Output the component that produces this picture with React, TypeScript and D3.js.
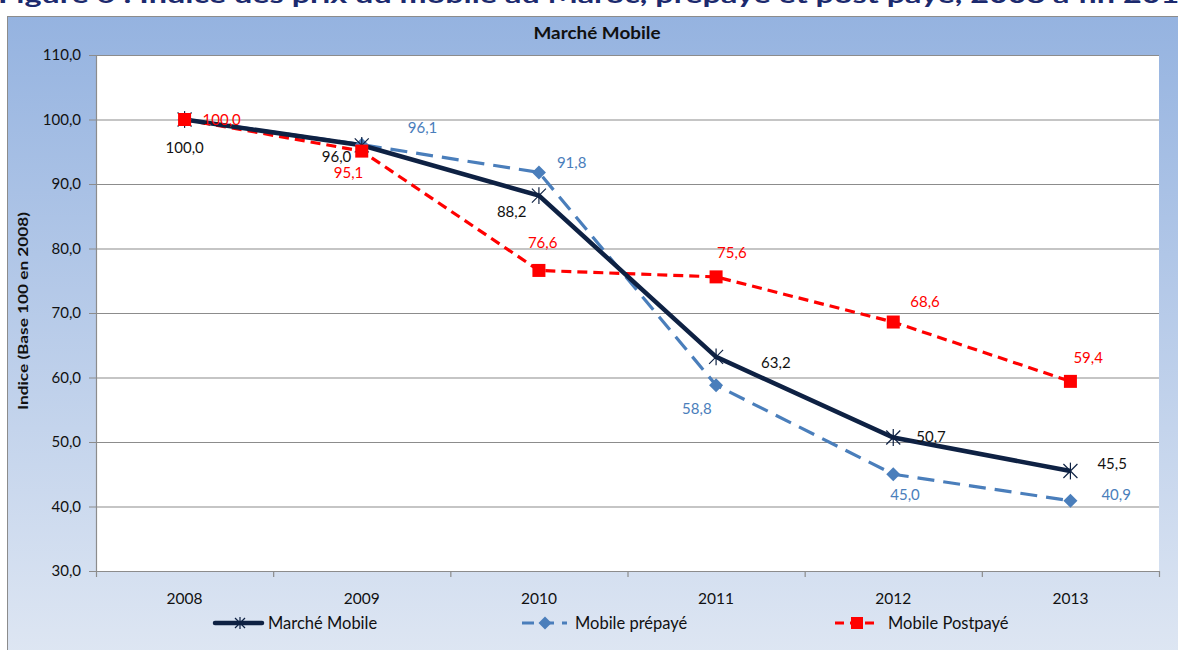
import React from "react";
import * as d3 from "d3";

const years = ["2008", "2009", "2010", "2011", "2012", "2013"];
const marcheMobile = [100.0, 96.0, 88.2, 63.2, 50.7, 45.5];
const mobilePrepaye = [100.0, 96.1, 91.8, 58.8, 45.0, 40.9];
const mobilePostpaye = [100.0, 95.1, 76.6, 75.6, 68.6, 59.4];
const yTicks = [30, 40, 50, 60, 70, 80, 90, 100, 110];
const seriesNames = ["Marché Mobile", "Mobile prépayé", "Mobile Postpayé"];
// label offsets (dx, baseline dy) per point; null = not shown
const labelPosMarche: ([number, number] | null)[] = [
  [-19, 33.5], [-40, 16.5], [-42, 21.5], [45, 11], [23, 5], [27, -2],
];
const labelPosPre: ([number, number] | null)[] = [
  null, [46, -12], [18, -4], [-34, 28.7], [-3, 26], [31, -1],
];
const labelPosPost: ([number, number] | null)[] = [
  [18, 5.5], [-28, 27], [-11, -22.4], [1, -18.8], [17, -15], [3, -18.4],
];

const W = 1178;
const H = 650;
const font = "Lato, 'Open Sans', 'Liberation Sans', sans-serif";

export default function App() {
  const left = 96, right = 1159, top = 55, bottom = 571;
  const x = d3.scaleBand<string>().domain(years).range([left, right]);
  const y = d3.scaleLinear().domain([30, 110]).range([bottom, top]);
  const cx = (yr: string) => (x(yr) as number) + x.bandwidth() / 2;
  const line = d3.line<number>().x((_, i) => cx(years[i])).y((v) => y(v));

  const cMarche = "#0e2143";
  const cPre = "#4a7ebb";
  const cPost = "#ff0000";

  const star = (px: number, py: number, s: number, color: string, key?: any) => (
    <g key={key} stroke={color} strokeWidth={1.2}>
      <line x1={px - s} y1={py - s} x2={px + s} y2={py + s} />
      <line x1={px - s} y1={py + s} x2={px + s} y2={py - s} />
      <line x1={px} y1={py - s * 1.2} x2={px} y2={py + s * 1.2} />
    </g>
  );
  const diamond = (px: number, py: number, s: number, color: string, key?: any) => (
    <path key={key} d={`M${px},${py - s}L${px + s},${py}L${px},${py + s}L${px - s},${py}Z`} fill={color} />
  );
  const square = (px: number, py: number, s: number, color: string, key?: any) => (
    <rect key={key} x={px - s} y={py - s} width={2 * s} height={2 * s} fill={color} />
  );

  const fmt = (v: number) => v.toFixed(1).replace(".", ",");

  const labels = (vals: number[], pos: ([number, number] | null)[], color: string, k: string) =>
    vals.map((v, i) => {
      const p = pos[i];
      if (!p) return null;
      return (
        <text key={k + i} x={cx(years[i]) + p[0]} y={y(v) + p[1]} fontFamily={font} fontSize={15} fill={color}>
          {fmt(v)}
        </text>
      );
    });

  return (
    <svg width={W} height={H} style={{ position: "absolute", left: 0, top: 0 }}>
      <defs>
        <linearGradient id="bg" x1="0" y1="0" x2="0" y2="1">
          <stop offset="0" stopColor="#95b3e0" />
          <stop offset="1" stopColor="#dfe7f3" />
        </linearGradient>
      </defs>
      <rect x={0} y={0} width={W} height={H} fill="#ffffff" />
      <text x={-2} y={3} fontFamily={font} fontWeight="bold" fontSize={23} fill="#1c2a6e" textLength={1200} lengthAdjust="spacingAndGlyphs">
        Figure 6 : Indice des prix du mobile au Maroc, prépayé et post payé, 2008 à fin 2013
      </text>
      <rect x={7.5} y={16.5} width={1200} height={650} fill="url(#bg)" stroke="#8c8c8c" strokeWidth={1} />
      <text x={597} y={39} textAnchor="middle" fontFamily={font} fontWeight="bold" fontSize={17} fill="#111" textLength={127} lengthAdjust="spacingAndGlyphs">
        Marché Mobile
      </text>
      <rect x={left} y={top} width={right - left} height={bottom - top} fill="#ffffff" />
      {yTicks.map((t) => (
        <g key={t}>
          <line x1={left - 7} x2={right} y1={y(t) + 0.5} y2={y(t) + 0.5} stroke="#8c8c8c" strokeWidth={1.2} />
          <text x={left - 15} y={y(t) + 5} textAnchor="end" fontFamily={font} fontSize={15} fill="#111">
            {fmt(t)}
          </text>
        </g>
      ))}
      <line x1={left + 0.5} x2={left + 0.5} y1={top} y2={bottom} stroke="#8c8c8c" strokeWidth={1.2} />
      {[...years.map((yr) => x(yr) as number), right].map((px, i) => (
        <line key={i} x1={px + 0.5} x2={px + 0.5} y1={bottom} y2={bottom + 6} stroke="#8c8c8c" strokeWidth={1.2} />
      ))}
      {years.map((yr) => (
        <text key={yr} x={cx(yr)} y={604} textAnchor="middle" fontFamily={font} fontSize={15.5} fill="#111">
          {yr}
        </text>
      ))}
      <text transform={`translate(28,${311}) rotate(-90)`} textAnchor="middle" fontFamily={font} fontWeight="bold" fontSize={14} fill="#111" textLength={198} lengthAdjust="spacingAndGlyphs">
        Indice (Base 100 en 2008)
      </text>

      {/* series lines */}
      <path d={line(mobilePrepaye) || ""} fill="none" stroke={cPre} strokeWidth={3.2} strokeDasharray="17,9" />
      <path d={line(mobilePostpaye) || ""} fill="none" stroke={cPost} strokeWidth={3.2} strokeDasharray="10,6" />
      <path d={line(marcheMobile) || ""} fill="none" stroke={cMarche} strokeWidth={4.5} />

      {mobilePrepaye.map((v, i) => diamond(cx(years[i]), y(v), 7, cPre, "d" + i))}
      {marcheMobile.map((v, i) => star(cx(years[i]), y(v), 7, cMarche, "s" + i))}
      {mobilePostpaye.map((v, i) => square(cx(years[i]), y(v), 6.5, cPost, "q" + i))}

      {labels(marcheMobile, labelPosMarche, "#111", "lm")}
      {labels(mobilePrepaye, labelPosPre, cPre, "lp")}
      {labels(mobilePostpaye, labelPosPost, cPost, "lq")}

      {/* legend */}
      <g>
        <line x1={215} x2={262} y1={623} y2={623} stroke={cMarche} strokeWidth={4.5} strokeLinecap="round" />
        {star(240, 623, 5, cMarche)}
        <text x={268} y={629} fontFamily={font} fontSize={16.5} fill="#111">{seriesNames[0]}</text>

        <line x1={522} x2={567} y1={623} y2={623} stroke={cPre} strokeWidth={3.2} strokeDasharray="12,8" />
        {diamond(545, 623, 6.5, cPre)}
        <text x={575} y={629} fontFamily={font} fontSize={16.5} fill="#111">{seriesNames[1]}</text>

        <line x1={835} x2={879} y1={623} y2={623} stroke={cPost} strokeWidth={3.2} strokeDasharray="9,6" />
        {square(857, 623, 6, cPost)}
        <text x={888} y={629} fontFamily={font} fontSize={16.5} fill="#111">{seriesNames[2]}</text>
      </g>
    </svg>
  );
}
